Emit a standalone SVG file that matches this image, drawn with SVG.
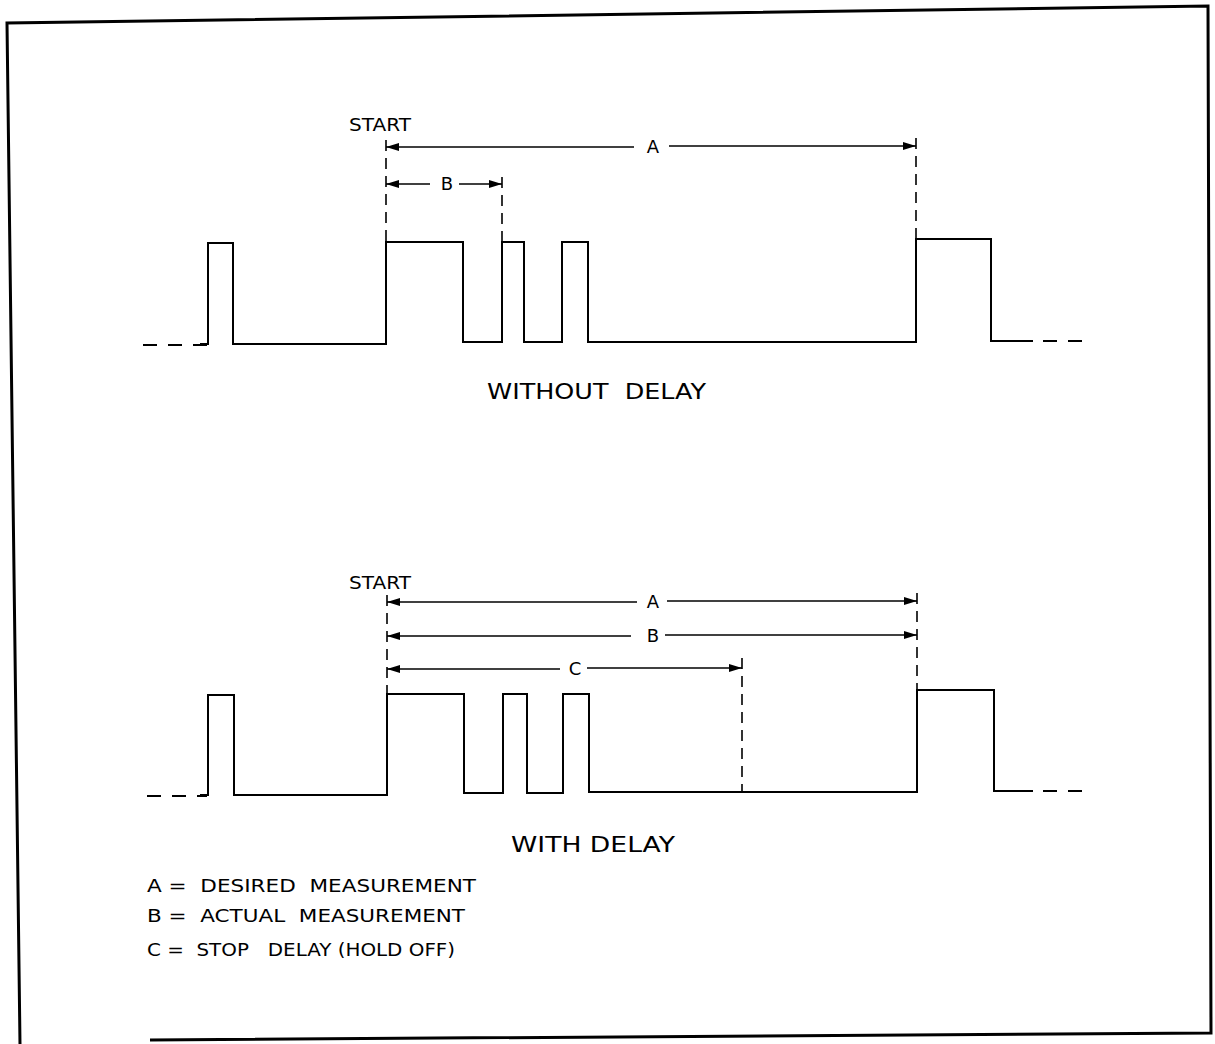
<svg xmlns="http://www.w3.org/2000/svg" width="1215" height="1044" viewBox="0 0 1215 1044">
<style>
.wave{fill:none;stroke:#000;stroke-width:2;stroke-linejoin:miter}
.lead{fill:none;stroke:#000;stroke-width:2;stroke-dasharray:14 11}
.dim{fill:none;stroke:#000;stroke-width:1.4}
.ext{fill:none;stroke:#000;stroke-width:1.6;stroke-dasharray:11 7}
.lbl{font-family:"DejaVu Sans","Liberation Sans",sans-serif;fill:#000;white-space:pre}
.border{fill:none;stroke:#000;stroke-width:3}
</style>
<defs>
<marker id="arr" markerUnits="userSpaceOnUse" markerWidth="16" markerHeight="10" refX="13" refY="5" orient="auto-start-reverse">
<path d="M0,1 L13,5 L0,9 z" fill="#000"/>
</marker>
</defs>
<rect width="1215" height="1044" fill="#fff"/>
<g id="border">
<polyline class="border" points="20,1044 7,23 1208,6 1211,1033 150,1040"/>
</g>

<g id="waveform-without-delay">
<path class="lead" d="M143,345 H207"/>
<path class="wave" d="M200,344 H208 V243 H233 V344 H386 V242 H463 V342 H502 V242 H524 V342 H562 V242 H588 V342 H916 V239 H991 V341 H1033"/>
<path class="lead" d="M1043,341 H1090"/>
</g>

<g id="waveform-with-delay">
<path class="lead" d="M147,796 H207"/>
<path class="wave" d="M200,795 H208 V695 H234 V795 H387 V694 H464 V793 H503 V694 H527 V793 H563 V694 H589 V792 H917 V690 H994 V791 H1033"/>
<path class="lead" d="M1043,791 H1090"/>
</g>

<g id="connectors">
<path class="ext" d="M386,140 V242"/>
<path class="ext" d="M916,138 V240"/>
<path class="ext" d="M502,177 V242"/>
<path class="dim" d="M386,147 H634" marker-start="url(#arr)"/>
<path class="dim" d="M669,146 H916" marker-end="url(#arr)"/>
<path class="dim" d="M386,184 H430" marker-start="url(#arr)"/>
<path class="dim" d="M459,184 H502" marker-end="url(#arr)"/>
<path class="ext" d="M387,595 V694"/>
<path class="ext" d="M917,593 V690"/>
<path class="ext" d="M742,658 V793"/>
<path class="dim" d="M387,602 H637" marker-start="url(#arr)"/>
<path class="dim" d="M667,601 H917" marker-end="url(#arr)"/>
<path class="dim" d="M387,636 H631" marker-start="url(#arr)"/>
<path class="dim" d="M665,635 H917" marker-end="url(#arr)"/>
<path class="dim" d="M387,669 H560" marker-start="url(#arr)"/>
<path class="dim" d="M587,668 H742" marker-end="url(#arr)"/>
</g>

<g id="labels-top">
<text class="lbl" x="349" y="131" font-size="17" textLength="62" lengthAdjust="spacingAndGlyphs">START</text>
<text class="lbl" x="653" y="153" font-size="18" text-anchor="middle">A</text>
<text class="lbl" x="447" y="190" font-size="18" text-anchor="middle">B</text>
<text class="lbl" x="487" y="399" font-size="22" textLength="219" lengthAdjust="spacingAndGlyphs" xml:space="preserve">WITHOUT  DELAY</text>
</g>

<g id="labels-bottom">
<text class="lbl" x="349" y="589" font-size="17" textLength="62" lengthAdjust="spacingAndGlyphs">START</text>
<text class="lbl" x="653" y="608" font-size="18" text-anchor="middle">A</text>
<text class="lbl" x="653" y="642" font-size="18" text-anchor="middle">B</text>
<text class="lbl" x="575" y="675" font-size="18" text-anchor="middle">C</text>
<text class="lbl" x="511" y="852" font-size="22" textLength="164" lengthAdjust="spacingAndGlyphs">WITH DELAY</text>
</g>

<g id="legend">
<text class="lbl" x="147" y="892" font-size="18" textLength="329" lengthAdjust="spacingAndGlyphs" xml:space="preserve">A =  DESIRED  MEASUREMENT</text>
<text class="lbl" x="147" y="922" font-size="18" textLength="318" lengthAdjust="spacingAndGlyphs" xml:space="preserve">B =  ACTUAL  MEASUREMENT</text>
<text class="lbl" x="147" y="956" font-size="18" textLength="308" lengthAdjust="spacingAndGlyphs" xml:space="preserve">C =  STOP   DELAY (HOLD OFF)</text>
</g>
</svg>
